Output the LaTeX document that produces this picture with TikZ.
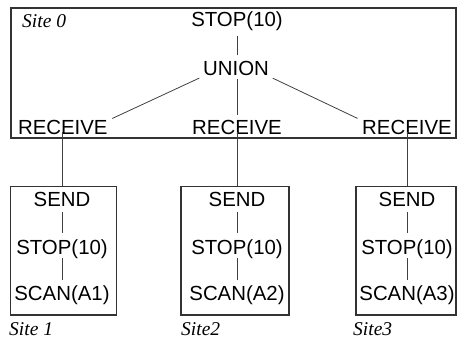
\documentclass[tikz,border=0pt]{standalone}
\usepackage{fontspec}
\setmainfont{Liberation Serif}
\newfontfamily\arialf{Liberation Sans}
\begin{document}
\begin{tikzpicture}[x=1pt,y=-1pt,
  lbl/.style={font=\arialf\fontsize{20.4}{22}\selectfont, inner sep=0pt, anchor=base},
  site/.style={font=\itshape\fontsize{19.5}{22}\selectfont, inner sep=0pt, anchor=base west},
  sitebox/.style={draw=black!80, line width=1.1pt, inner sep=0pt},
  conn/.style={draw=black!75, line width=0.8pt}]
\useasboundingbox (0,0) rectangle (457,339);
% top site box
\node[sitebox, minimum width=445pt, minimum height=130pt] (b0) at (233.5,73) {};
\node[site] (l0) at (22,28) {Site 0};
\node[lbl] (s0) at (237,27) {STOP(10)};
\node[lbl] (u) at (236,76) {UNION};
\node[lbl] (r1) at (62.8,135) {RECEIVE};
\node[lbl] (r2) at (237,135) {RECEIVE};
\node[lbl] (r3) at (407,135) {RECEIVE};
% bottom boxes
\node[sitebox, minimum width=106pt, minimum height=128.3pt] (b1) at (63.7,250.8) {};
\node[sitebox, minimum width=108pt, minimum height=128.3pt] (b2) at (235,250.8) {};
\node[sitebox, minimum width=100pt, minimum height=128.3pt] (b3) at (406,250.8) {};
\foreach \i/\x in {1/62,2/237,3/407}{
  \node[lbl] (sd\i) at (\x,206) {SEND};
  \node[lbl] (st\i) at (\x,254) {STOP(10)};
  \node[lbl] (sc\i) at (\x,300.5) {SCAN(A\i)};
  \draw[conn, shorten <=5.5pt, shorten >=6.5pt] (sd\i.south) -- (st\i.north);
  \draw[conn, shorten <=0pt, shorten >=6pt] (st\i.south) -- (sc\i.north);
}
\node[site] (l1) at (9,335) {Site 1};
\node[site] (l2) at (181,335) {Site2};
\node[site] (l3) at (353,335) {Site3};
% connectors in site 0
\draw[conn, shorten <=4.5pt, shorten >=7pt] (s0.south) -- (s0.south |- u.north);
\draw[conn, shorten <=4pt, shorten >=5pt] (u.south west) -- (r1.north east);
\draw[conn, shorten <=3pt, shorten >=6pt] (r2.north |- u.south) -- (r2.north);
\draw[conn, shorten <=4pt, shorten >=5pt] (u.south east) -- (r3.north west);
% site 0 to sites
\draw[conn] (r1.south -| sd1.south) ++(0,-3) -- (sd1.south |- b1.north);
\draw[conn] (r2.south -| sd2.south) ++(0,-3) -- (sd2.south |- b2.north);
\draw[conn] (r3.south -| sd3.south) ++(0,-3) -- (sd3.south |- b3.north);
\end{tikzpicture}
\end{document}
